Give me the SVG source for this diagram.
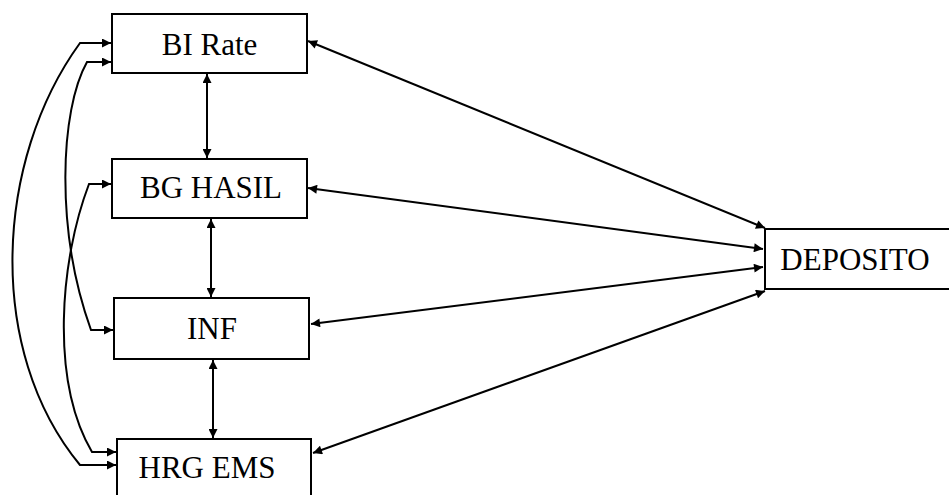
<svg xmlns="http://www.w3.org/2000/svg" width="949" height="495" viewBox="0 0 949 495">
<style>
.box{fill:#fff;stroke:#000;stroke-width:2}
.lbl{font-family:"Liberation Serif","Times New Roman",serif;font-size:31px;fill:#000;text-anchor:middle}
.c{fill:none;stroke:#000;stroke-width:2;marker-start:url(#ah);marker-end:url(#ah)}
</style>
<defs>
<marker id="ah" viewBox="0 0 10 10" refX="10" refY="5" markerWidth="11" markerHeight="9" markerUnits="userSpaceOnUse" orient="auto-start-reverse">
<path d="M0,0 L10,5 L0,10 z" fill="#000"/>
</marker>
</defs>
<rect width="949" height="495" fill="#fff"/>
<g id="connectors">
<path class="c" d="M207,74 L207,158"/>
<path class="c" d="M211,219 L211,297"/>
<path class="c" d="M213,360 L213,438"/>
<path class="c" d="M308,41 L765,228"/>
<path class="c" d="M308,188 L763,249"/>
<path class="c" d="M311,324 L763,267"/>
<path class="c" d="M313,453 L765,291"/>
<path class="c" d="M111,43 L80,43 C-5,160 -15,350 80,465 L116,465"/>
<path class="c" d="M111,62 L87,62 C60,110 55,230 91,330 L113,330"/>
<path class="c" d="M111,184 L89,184 C60,260 50,380 92,452 L116,452"/>
</g>
<g id="bi-rate"><rect class="box" x="112" y="14" width="195" height="59"/><text class="lbl" x="209.5" y="55">BI Rate</text></g>
<g id="bg-hasil"><rect class="box" x="112" y="159" width="195" height="59"/><text class="lbl" x="211" y="198">BG HASIL</text></g>
<g id="inf"><rect class="box" x="114" y="298" width="195" height="61"/><text class="lbl" x="212" y="339">INF</text></g>
<g id="hrg-ems"><rect class="box" x="117" y="439" width="194" height="70"/><text class="lbl" x="207" y="478">HRG EMS</text></g>
<g id="deposito"><rect class="box" x="765" y="229" width="200" height="60"/><text class="lbl" x="855" y="270">DEPOSITO</text></g>
</svg>
